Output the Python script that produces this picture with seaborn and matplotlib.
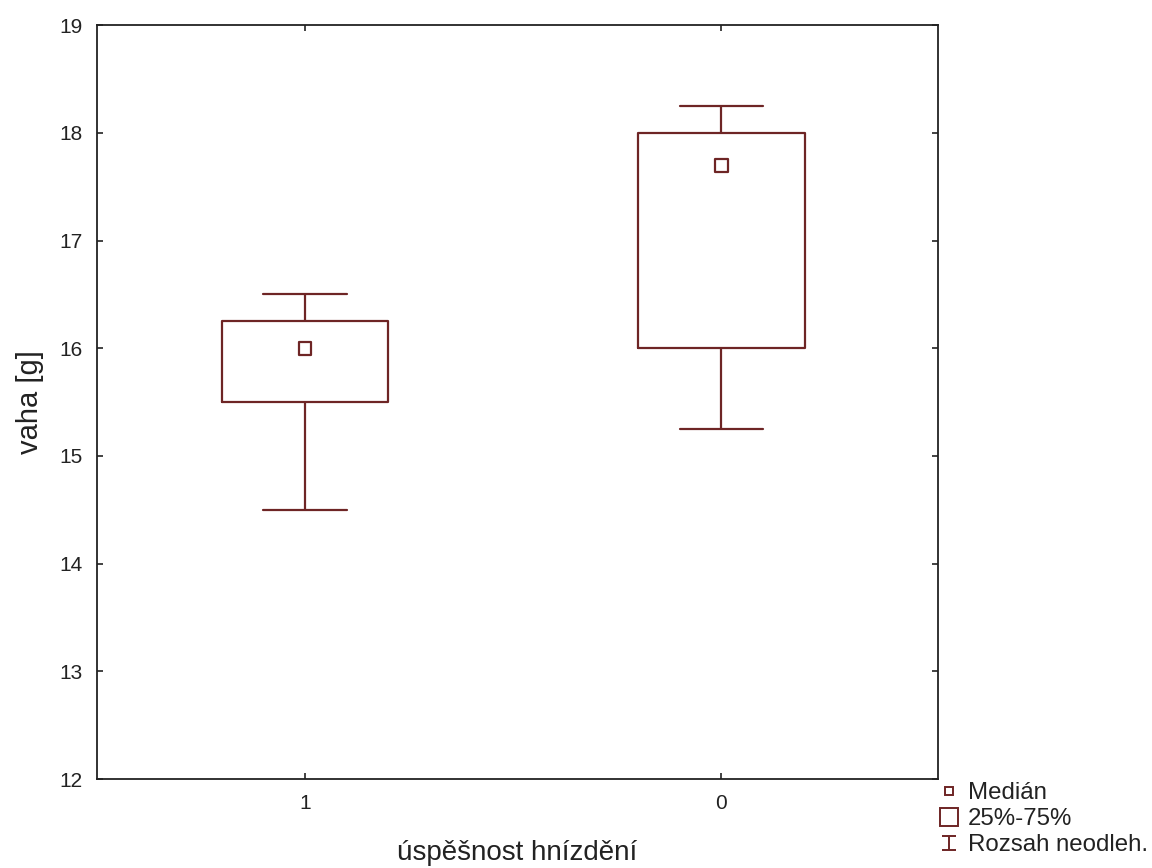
import numpy as np
import matplotlib.pyplot as plt
import seaborn as sns
import pandas as pd
from matplotlib.lines import Line2D
from matplotlib.path import Path

# Five-number summary per group (min, Q1, median, Q3, max)
categories = ['1', '0']
group_1 = [14.5, 15.5, 16.0, 16.25, 16.5]
group_0 = [15.25, 16.0, 17.7, 18.0, 18.25]
medians = [16.0, 17.7]
y_ticks = [12, 13, 14, 15, 16, 17, 18, 19]

sns.set_theme(style="white")
plt.rcParams['font.family'] = ['Liberation Sans', 'DejaVu Sans']

box_color = '#6e2525'
text_color = '#222222'

df = pd.DataFrame({
    'group': [categories[0]] * len(group_1) + [categories[1]] * len(group_0),
    'value': group_1 + group_0,
})

fig = plt.figure(figsize=(11.52, 8.68), dpi=100)
ax = fig.add_axes([0.084, 0.1025, 0.730, 0.8685])

sns.boxplot(
    data=df, x='group', y='value', order=categories,
    whis=(0, 100), width=0.4, fill=False, color=box_color,
    linewidth=1.6, showfliers=False, ax=ax,
    medianprops={'visible': False},
    whiskerprops={'color': box_color, 'linewidth': 1.6},
    capprops={'color': box_color, 'linewidth': 1.6},
    boxprops={'color': box_color, 'linewidth': 1.6},
    capwidths=0.2,
)

med_df = pd.DataFrame({'group': categories, 'median': medians})
sns.scatterplot(
    data=med_df, x='group', y='median', marker='s', s=85,
    facecolor='none', edgecolor=box_color, linewidth=1.6, ax=ax, zorder=5,
)

ax.set_xlim(-0.5, 1.52)
ax.set_ylim(12, 19)
ax.set_yticks(y_ticks)
ax.set_xlabel('úspěšnost hnízdění', fontsize=20, color=text_color, labelpad=19)
ax.set_ylabel('vaha [g]', fontsize=21, color=text_color, labelpad=11)
ax.tick_params(axis='both', direction='in', length=4, width=1.2,
               labelsize=15, colors=text_color,
               top=True, right=True, bottom=True, left=True)
ax.tick_params(axis='y', pad=10)
ax.tick_params(axis='x', pad=11)
for sp in ax.spines.values():
    sp.set_color(text_color)
    sp.set_linewidth(1.3)

# legend symbols
whisker_path = Path(
    [(-0.5, 0.5), (0.5, 0.5), (0, 0.5), (0, -0.5), (-0.5, -0.5), (0.5, -0.5)],
    [Path.MOVETO, Path.LINETO, Path.MOVETO, Path.LINETO, Path.MOVETO, Path.LINETO],
)
handles = [
    Line2D([], [], linestyle='none', marker='s', markersize=6,
           markerfacecolor='none', markeredgecolor=box_color, markeredgewidth=1.4),
    Line2D([], [], linestyle='none', marker='s', markersize=12.5,
           markerfacecolor='none', markeredgecolor=box_color, markeredgewidth=1.4),
    Line2D([], [], linestyle='none', marker=whisker_path, markersize=10,
           markerfacecolor='none', markeredgecolor=box_color, markeredgewidth=1.4),
]
labels = ['Medián', '25%-75%', 'Rozsah neodleh.']
fig.legend(handles, labels, loc='upper left', bbox_to_anchor=(0.814, 0.099),
           frameon=False, fontsize=17.3, handlelength=0.9, handletextpad=0.35,
           labelspacing=0.17, borderaxespad=0.0, borderpad=0.0,
           labelcolor=text_color)

fig.savefig('out.png', dpi=100)
